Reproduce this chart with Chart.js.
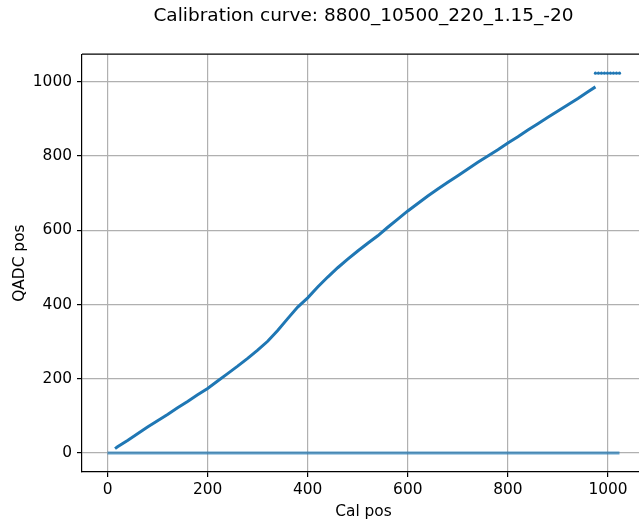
<!DOCTYPE html>
<html>
<head>
<meta charset="utf-8">
<script src="https://cdn.jsdelivr.net/npm/chart.js@4/dist/chart.umd.min.js"></script>
<style>
  html, body { margin: 0; padding: 0; background: #fff; overflow: hidden; }
  #wrap { width: 727px; height: 526px; }
</style>
</head>
<body>
<div id="wrap"><canvas id="calChart"></canvas></div>
<script>
// Curva de calibracion
const calPos = [15, 20, 40, 60, 80, 100, 120, 140, 160, 180, 200, 220, 240, 260, 280, 300, 320, 340, 360, 380,
    400, 420, 440, 460, 480, 500, 520, 540, 560, 580, 600, 620, 640, 660, 680, 700, 720, 740, 760, 780,
    800, 820, 840, 860, 880, 900, 920, 940, 960, 975];
const qadcPos = [12, 17, 34, 52, 70, 87, 104, 122, 139, 157, 174, 194, 214, 234, 255, 277, 301, 330, 362, 393,
    418, 447, 474, 499, 522, 544, 565, 585, 608, 630, 652, 672, 692, 711, 729, 747, 765, 783, 800, 817,
    835, 852, 870, 887, 904, 921, 938, 955, 973, 986];

// Puntos en cero
const zeroCalPos = [0, 100, 200, 300, 400, 500, 600, 700, 800, 900, 1000, 1023];
const zeroQadc = [0, 0, 0, 0, 0, 0, 0, 0, 0, 0, 0, 0];

// Puntos saturados
const satCalPos = [975, 981, 987, 993, 999, 1005, 1011, 1017, 1023];
const satQadc = [1023, 1023, 1023, 1023, 1023, 1023, 1023, 1023, 1023];

const xTicks = [0, 200, 400, 600, 800, 1000];
const yTicks = [0, 200, 400, 600, 800, 1000];

function toPoints(xs, ys) {
    return xs.map((x, i) => ({ x: x, y: ys[i] }));
}

Chart.defaults.font.family = 'DejaVu Sans';
Chart.defaults.color = '#000';

// Linea superior del marco
const topSpine = {
    id: 'topSpine',
    afterDraw(chart) {
        const a = chart.chartArea;
        const ctx = chart.ctx;
        ctx.save();
        ctx.strokeStyle = '#000';
        ctx.lineWidth = 1.2;
        ctx.beginPath();
        ctx.moveTo(a.left, a.top);
        ctx.lineTo(a.right + 2, a.top);
        ctx.stroke();
        ctx.restore();
    }
};

const gridStyle = { color: '#b0b0b0', lineWidth: 1.2, tickLength: 5, tickColor: '#000', tickWidth: 1.2 };

var ctx = document.getElementById('calChart').getContext('2d');
new Chart(ctx, {
    type: 'scatter',
    data: {
        datasets: [{
            data: toPoints(zeroCalPos, zeroQadc),
            showLine: true,
            borderColor: 'rgba(31,119,180,0.7)',
            borderWidth: 3,
            pointRadius: 0
        }, {
            data: toPoints(calPos, qadcPos),
            showLine: true,
            borderColor: '#1f77b4',
            borderWidth: 3,
            pointRadius: 0
        }, {
            data: toPoints(satCalPos, satQadc),
            backgroundColor: '#1f77b4',
            borderWidth: 0,
            pointRadius: 1.6
        }]
    },
    options: {
        responsive: true,
        maintainAspectRatio: false,
        animation: false,
        devicePixelRatio: 1,
        layout: { padding: 0 },
        plugins: {
            legend: { display: false },
            tooltip: { enabled: false },
            title: {
                display: true,
                text: 'Calibration curve: 8800_10500_220_1.15_-20',
                font: { size: 18.5, weight: 'normal' },
                color: '#000',
                padding: { top: 5, bottom: 27 }
            }
        },
        scales: {
            x: {
                type: 'linear',
                min: -51,
                max: 1074,
                z: 1,
                afterBuildTicks: axis => { axis.ticks = xTicks.map(v => ({ value: v })); },
                afterFit: scale => { scale.height = 54; },
                ticks: { font: { size: 15.4 }, padding: 4, maxRotation: 0, callback: v => String(v) },
                grid: gridStyle,
                border: { color: '#000', width: 1.2 },
                title: { display: true, text: 'Cal pos', font: { size: 15.4 }, padding: { top: 0, bottom: 5 } }
            },
            y: {
                type: 'linear',
                min: -51,
                max: 1074,
                z: 1,
                afterBuildTicks: axis => { axis.ticks = yTicks.map(v => ({ value: v })); },
                afterFit: scale => { scale.width = 82; },
                ticks: { font: { size: 15.4 }, padding: 5, callback: v => String(v) },
                grid: gridStyle,
                border: { color: '#000', width: 1.2 },
                title: { display: true, text: 'QADC pos', font: { size: 15.4 }, padding: { top: 11, bottom: 0 } }
            },
            // eje vacio a la derecha para dejar el margen (queda fuera de la ventana)
            yRight: {
                type: 'linear',
                position: 'right',
                min: -51,
                max: 1074,
                afterFit: scale => { scale.width = 82; },
                ticks: { display: false },
                grid: { display: false },
                border: { display: false }
            }
        }
    },
    plugins: [topSpine]
});
</script>
</body>
</html>
